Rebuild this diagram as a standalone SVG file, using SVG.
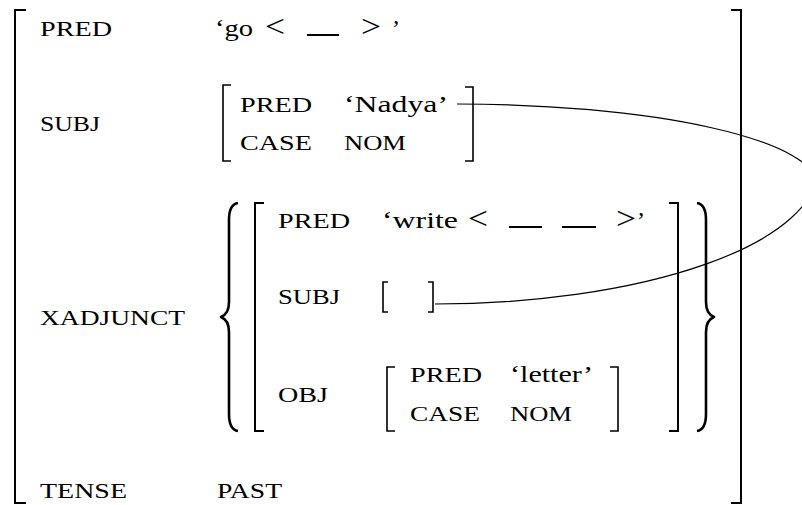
<svg xmlns="http://www.w3.org/2000/svg" width="802" height="505" viewBox="0 0 802 505">
<style>
.lab{font-family:"Liberation Serif","Times New Roman",serif;font-size:22px;fill:#000}
.val{font-family:"Liberation Serif","Times New Roman",serif;font-size:24px;fill:#000}
.sym{font-family:"Liberation Serif","Times New Roman",serif;font-size:31px;fill:#000}
.br{fill:none;stroke:#000;stroke-width:2;stroke-linecap:butt}
.brs{fill:none;stroke:#000;stroke-width:1.6}
.brace{fill:none;stroke:#000;stroke-width:2.6;stroke-linejoin:round}
.dash{stroke:#000;stroke-width:2}
.link{fill:none;stroke:#000;stroke-width:1.2}
</style>
<rect width="802" height="505" fill="#fff"/>
<g id="outer-fstructure">
<path class="br" d="M26,10 H15 V503 H26"/>
<path class="br" d="M731,10 H741 V503 H731"/>
</g>
<g id="pred">
<text class="lab" x="40" y="36" textLength="72" lengthAdjust="spacingAndGlyphs">PRED</text>
<text class="val" x="215" y="36" textLength="38" lengthAdjust="spacingAndGlyphs">‘go</text>
<text class="sym" x="265" y="37" textLength="20" lengthAdjust="spacingAndGlyphs">&lt;</text>
<line class="dash" x1="307" y1="35" x2="339" y2="35"/>
<text class="sym" x="361" y="37" textLength="20" lengthAdjust="spacingAndGlyphs">&gt;</text>
<text class="val" x="392" y="36">’</text>
</g>
<g id="subj">
<text class="lab" x="40" y="131" textLength="60" lengthAdjust="spacingAndGlyphs">SUBJ</text>
<path class="brs" d="M231,85 H223 V161 H231"/>
<path class="brs" d="M465,87 H473 V161 H465"/>
<text class="lab" x="240" y="112" textLength="72" lengthAdjust="spacingAndGlyphs">PRED</text>
<text class="val" x="344" y="112" textLength="104" lengthAdjust="spacingAndGlyphs">‘Nadya’</text>
<text class="lab" x="240" y="150" textLength="72" lengthAdjust="spacingAndGlyphs">CASE</text>
<text class="lab" x="344" y="150" textLength="62" lengthAdjust="spacingAndGlyphs">NOM</text>
</g>
<g id="xadjunct">
<text class="lab" x="40" y="325" textLength="145" lengthAdjust="spacingAndGlyphs">XADJUNCT</text>
<path class="brace" d="M238,203 C231,204 229,210 229,220 L229,302 C229,310 226,315 221,317 C226,319 229,324 229,332 L229,414 C229,424 231,430 238,431"/>
<path class="brace" d="M697,203 C704,204 706,210 706,220 L706,302 C706,310 709,315 714,317 C709,319 706,324 706,332 L706,414 C706,424 704,430 697,431"/>
<path class="br" d="M264,203 H255 V431 H264"/>
<path class="br" d="M669,203 H678 V431 H669"/>
</g>
<g id="xadj-pred">
<text class="lab" x="278" y="228" textLength="72" lengthAdjust="spacingAndGlyphs">PRED</text>
<text class="val" x="382" y="228" textLength="76" lengthAdjust="spacingAndGlyphs">‘write</text>
<text class="sym" x="468" y="229" textLength="20" lengthAdjust="spacingAndGlyphs">&lt;</text>
<line class="dash" x1="509" y1="227" x2="542" y2="227"/>
<line class="dash" x1="562" y1="227" x2="596" y2="227"/>
<text class="sym" x="616" y="229" textLength="20" lengthAdjust="spacingAndGlyphs">&gt;</text>
<text class="val" x="637" y="228">’</text>
</g>
<g id="xadj-subj">
<text class="lab" x="278" y="304" textLength="62" lengthAdjust="spacingAndGlyphs">SUBJ</text>
<path class="brs" d="M388,282 H383 V312 H388"/>
<path class="brs" d="M428,282 H433 V312 H428"/>
</g>
<g id="xadj-obj">
<text class="lab" x="278" y="402" textLength="50" lengthAdjust="spacingAndGlyphs">OBJ</text>
<path class="brs" d="M395,367 H387 V431 H395"/>
<path class="brs" d="M610,367 H618 V431 H610"/>
<text class="lab" x="410" y="382" textLength="72" lengthAdjust="spacingAndGlyphs">PRED</text>
<text class="val" x="510" y="382" textLength="83" lengthAdjust="spacingAndGlyphs">‘letter’</text>
<text class="lab" x="410" y="421" textLength="70" lengthAdjust="spacingAndGlyphs">CASE</text>
<text class="lab" x="510" y="421" textLength="62" lengthAdjust="spacingAndGlyphs">NOM</text>
</g>
<g id="tense">
<text class="lab" x="40" y="498" textLength="87" lengthAdjust="spacingAndGlyphs">TENSE</text>
<text class="lab" x="217" y="498" textLength="65" lengthAdjust="spacingAndGlyphs">PAST</text>
</g>
<g id="connectors">
<path class="link" d="M457,104 A360,81 0 0 1 817,185 L818,168 A383,136 0 0 1 435,304"/>
</g>
</svg>
